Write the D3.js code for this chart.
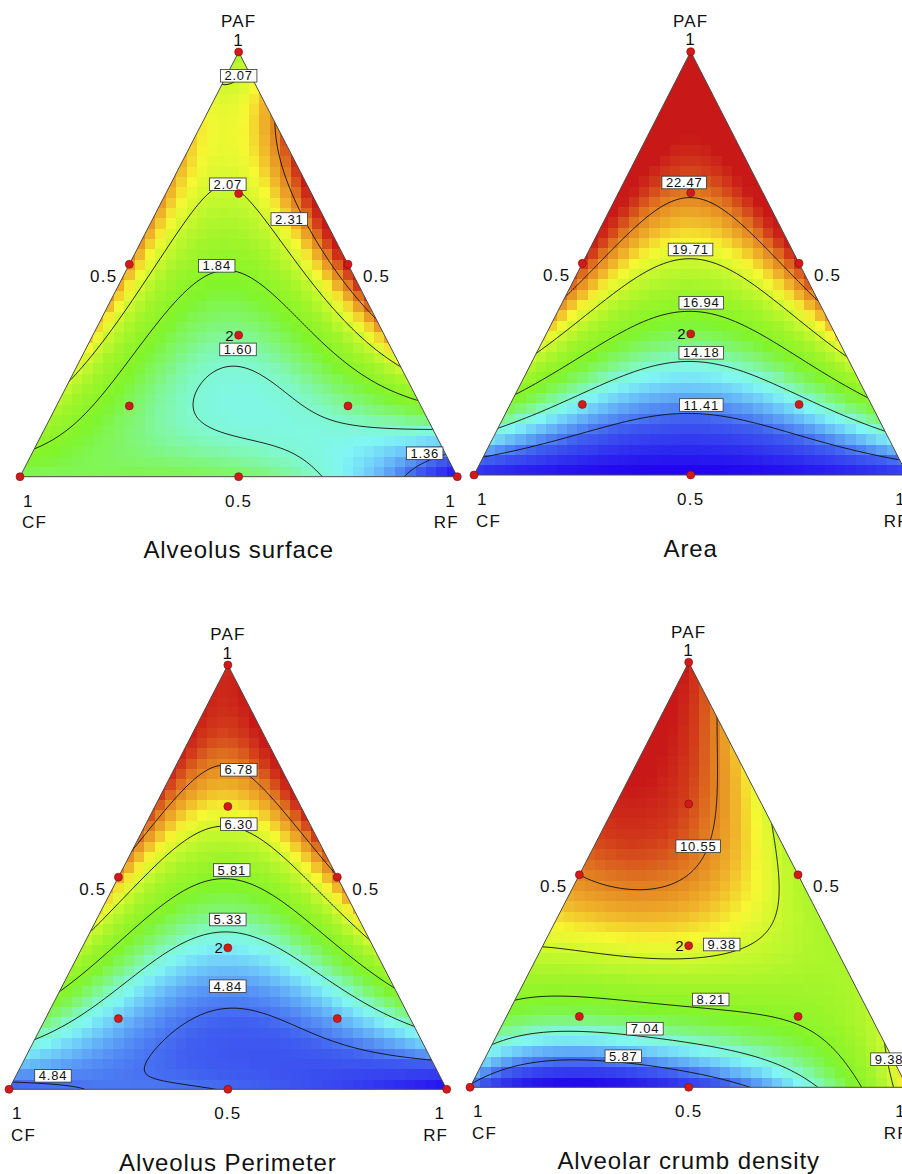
<!DOCTYPE html>
<meta charset="utf-8">
<title>Mixture design - ternary response surfaces</title>

<style>
body {
  margin: 0px;
  background: #fff;
}
svg {
  display: block;
  font-family: "Liberation Sans", Arial, sans-serif;
}
path.edge {
  fill: none;
  stroke: #4a4a4a;
  stroke-width: 1;
}
path.contour {
  fill: none;
  stroke: #111;
  stroke-width: 0.9;
}
g.lbl rect {
  fill: #fff;
  stroke: #333;
  stroke-width: 0.8;
}
g.lbl text {
  font-size: 13px;
  letter-spacing: 0.8px;
  text-anchor: middle;
  fill: #111;
}
circle.pt {
  fill: #d21a1a;
  stroke: #7a0d0d;
  stroke-width: 0.6;
}
text.ax {
  font-size: 17px;
  letter-spacing: 1.2px;
  fill: #111;
}
text.rep {
  font-size: 15px;
  fill: #111;
  text-anchor: end;
}
text.ttl {
  font-size: 24px;
  letter-spacing: 0.9px;
  text-anchor: middle;
  fill: #111;
}
</style>

<script src="https://d3js.org/d3.v7.min.js"></script>
<body>
<script>

// ---------------- data ----------------
var titles = ["Alveolus surface", "Area", "Alveolus Perimeter", "Alveolar crumb density"];

// contour levels printed on each plot
var levelsSurface = [1.36, 1.60, 1.84, 2.07, 2.31];
var levelsArea    = [11.41, 14.18, 16.94, 19.71, 22.47];
var levelsPerim   = [4.84, 5.33, 5.81, 6.30, 6.78];
var levelsDensity = [5.87, 7.04, 8.21, 9.38, 10.55];

// mixture model coefficients (component order CF, PAF, RF)
// linear: CF, PAF, RF
var linSurface = [1.72, 1.97, 1.12];
var linArea    = [9.5, 25.0, 9.8];
var linPerim   = [4.75, 7.04, 4.36];
var linDensity = [5.75, 11.28, 10.0];
// binary: CF*PAF, CF*RF, PAF*RF
var binSurface = [1.69, 1.19, 3.67];
var binArea    = [25.56, -4.4, 25.56];
var binPerim   = [3.01, 1.10, 4.26];
var binDensity = [8.14, -10.8, -6.49];
// ternary: CF*PAF*RF
var terSurface = -18.1;
var terArea    = -115;
var terPerim   = -30;
var terDensity = 44;
// cubic: CF*PAF*(CF-PAF), CF*RF*(CF-RF), PAF*RF*(PAF-RF)
var cubSurface = [0, -0.5, -0.29];
var cubArea    = [5.9, 0, -5.9];
var cubPerim   = [0, 0, -0.39];
var cubDensity = [0, 0.2, 2.0];
// quartic: same pairs times (xi-xj)^2
var qrtSurface = [0, 0, 0];
var qrtArea    = [0, 0, 0];
var qrtPerim   = [0, 0, 0];
var qrtDensity = [0, -5.5, 0];

// design points (CF, PAF, RF) and replicates
var design = [[1, 0, 0], [0, 1, 0], [0, 0, 1],
              [0.5, 0.5, 0], [0.5, 0, 0.5], [0, 0.5, 0.5],
              [2/3, 1/6, 1/6], [1/6, 2/3, 1/6], [1/6, 1/6, 2/3],
              [1/3, 1/3, 1/3]];
var replicates = [1, 1, 1, 1, 1, 1, 1, 1, 1, 2];

// which level each printed contour label shows
var labelLevelSurface = [3, 3, 4, 2, 1, 0];
var labelLevelArea    = [4, 3, 2, 1, 0];
var labelLevelPerim   = [4, 3, 2, 1, 0, 0];
var labelLevelDensity = [4, 3, 2, 1, 0, 3];

// ---------------- layout ----------------
var width = 902, height = 1174;

var panels = [
  {x0: 20,  yb: 476.7,  w: 437.3, h: 424.7},
  {x0: 474, yb: 475,    w: 433.4, h: 423.3},
  {x0: 9,   yb: 1089.3, w: 437.7, h: 424.3},
  {x0: 470, yb: 1087.3, w: 437.4, h: 425}
];

// where the contour labels sit (as CF, PAF, RF compositions)
var labelAt = [
  [[0.028, 0.944, 0.028], [0.1805, 0.6885, 0.131], [0.081, 0.6067, 0.3124],
   [0.302, 0.4965, 0.2015], [0.3516, 0.2997, 0.3487], [0.047, 0.0551, 0.8979]],
  [[0.1695, 0.691, 0.1395], [0.234, 0.5327, 0.2333], [0.272, 0.4068, 0.321],
   [0.331, 0.2887, 0.380], [0.3928, 0.1654, 0.4418]],
  [[0.0985, 0.753, 0.1485], [0.1625, 0.6248, 0.2127], [0.2328, 0.5168, 0.2504],
   [0.3, 0.4002, 0.2998], [0.3786, 0.243, 0.3784], [0.8836, 0.0318, 0.0846]],
  [[0.1947, 0.5673, 0.238], [0.2566, 0.336, 0.4074], [0.3464, 0.2066, 0.447],
   [0.531, 0.1379, 0.331], [0.6129, 0.0732, 0.3139], [0.009, 0.0661, 0.9248]]
];

// colour ramp (fraction of the response range -> colour)
var rampStops  = [0, 0.15, 0.25, 0.30, 0.34, 0.40, 0.47, 0.58, 0.65, 0.72, 0.78, 0.85, 0.90, 0.95, 1];
var rampColors = ["#2000f0", "#4060f0", "#6ec8fa", "#80f6f4", "#80f8cc", "#80f674", "#80f52a",
                  "#a2f52a", "#c4f82e", "#f6f832", "#f0b42a", "#e07820", "#d23c1a", "#c81818", "#c81818"];

var plots = [
  {levels: levelsSurface, lin: linSurface, bin: binSurface, ter: terSurface, cub: cubSurface, qrt: qrtSurface, lab: labelLevelSurface},
  {levels: levelsArea,    lin: linArea,    bin: binArea,    ter: terArea,    cub: cubArea,    qrt: qrtArea,    lab: labelLevelArea},
  {levels: levelsPerim,   lin: linPerim,   bin: binPerim,   ter: terPerim,   cub: cubPerim,   qrt: qrtPerim,   lab: labelLevelPerim},
  {levels: levelsDensity, lin: linDensity, bin: binDensity, ter: terDensity, cub: cubDensity, qrt: qrtDensity, lab: labelLevelDensity}
];

function model(k, a, b, c) {
  return k.lin[0] * a + k.lin[1] * b + k.lin[2] * c
    + k.bin[0] * a * b + k.bin[1] * a * c + k.bin[2] * b * c
    + k.ter * a * b * c
    + k.cub[0] * a * b * (a - b) + k.cub[1] * a * c * (a - c) + k.cub[2] * b * c * (b - c)
    + k.qrt[0] * a * b * (a - b) * (a - b) + k.qrt[1] * a * c * (a - c) * (a - c)
    + k.qrt[2] * b * c * (b - c) * (b - c);
}

var svg = d3.select("body").append("svg")
    .attr("width", width)
    .attr("height", height);

plots.forEach(function(k, pi) {
  var p = panels[pi];

  // ternary scales: PAF share -> y, (RF + PAF/2) -> x
  var ys = d3.scaleLinear().domain([0, 1]).range([p.yb, p.yb - p.h]);
  var xs = d3.scaleLinear().domain([0, 1]).range([p.x0, p.x0 + p.w]);
  function pos(comp) {
    return [xs(comp[2] + comp[1] / 2), ys(comp[1])];
  }
  function comp(x, y) {
    var b = ys.invert(y);
    var c = xs.invert(x) - b / 2;
    return [1 - b - c, b, c];
  }

  var step = (k.levels[4] - k.levels[0]) / 4;
  var lo = k.levels[0] - step, hi = k.levels[4] + step;
  var color = d3.scaleLinear()
      .domain(rampStops.map(function(t) { return lo + t * (hi - lo); }))
      .range(rampColors)
      .clamp(true);

  var C = pos([1, 0, 0]), P = pos([0, 1, 0]), R = pos([0, 0, 1]);
  var tri = "M" + C + "L" + P + "L" + R + "Z";

  var g = svg.append("g");
  g.append("clipPath").attr("id", "clip" + pi)
    .append("path").attr("d", tri);

  // pixelated surface
  var nx = 42, ny = 41;
  var cw = p.w / nx, ch = p.h / ny;
  var cells = [];
  for (var j = 0; j < ny; j++) {
    for (var i = 0; i < nx; i++) {
      var cx = p.x0 + (i + 0.5) * cw, cy = p.yb - (j + 0.5) * ch;
      var m = comp(cx, cy);
      if (m[0] < -0.06 || m[2] < -0.06) continue;
      cells.push({x: cx - cw / 2, y: cy - ch / 2, v: model(k, m[0], m[1], m[2])});
    }
  }
  var heat = g.append("g").attr("clip-path", "url(#clip" + pi + ")");
  heat.selectAll("rect")
      .data(cells)
    .enter().append("rect")
      .attr("x", function(d) { return d.x; })
      .attr("y", function(d) { return d.y; })
      .attr("width", cw + 0.6)
      .attr("height", ch + 0.6)
      .attr("fill", function(d) { return color(d.v); })
      .attr("shape-rendering", "crispEdges");

  // contour lines
  var gs = 2, mg = 8;
  var gx0 = p.x0 - mg, gy0 = p.yb - p.h - mg;
  var gw = Math.ceil((p.w + 2 * mg) / gs) + 1, gh = Math.ceil((p.h + 2 * mg) / gs) + 1;
  var vals = new Float64Array(gw * gh);
  for (var jj = 0; jj < gh; jj++) {
    for (var ii = 0; ii < gw; ii++) {
      var mm = comp(gx0 + ii * gs, gy0 + jj * gs);
      vals[jj * gw + ii] = model(k, mm[0], mm[1], mm[2]);
    }
  }
  var contours = d3.contours().size([gw, gh]).thresholds(k.levels)(vals);
  var cpath = d3.geoPath(d3.geoIdentity().scale(gs).translate([gx0 - gs / 2, gy0 - gs / 2]));
  heat.selectAll("path.contour")
      .data(contours)
    .enter().append("path")
      .attr("class", "contour")
      .attr("d", cpath);

  // triangle outline
  g.append("path").attr("class", "edge").attr("d", tri);

  // contour labels
  var labs = g.selectAll("g.lbl")
      .data(k.lab.map(function(li, n) { return {t: k.levels[li].toFixed(2), at: pos(labelAt[pi][n])}; }))
    .enter().append("g")
      .attr("class", "lbl")
      .attr("transform", function(d) { return "translate(" + d.at + ")"; });
  labs.append("rect");
  labs.append("text").attr("y", 4.6).text(function(d) { return d.t; });
  labs.each(function() {
    var tw = d3.select(this).select("text").node().getComputedTextLength();
    d3.select(this).select("rect")
      .attr("x", -tw / 2 - 4).attr("y", -6.3)
      .attr("width", tw + 8).attr("height", 12.6);
  });

  // design points
  g.selectAll("circle.pt")
      .data(design)
    .enter().append("circle")
      .attr("class", "pt")
      .attr("cx", function(d) { return pos(d)[0]; })
      .attr("cy", function(d) { return pos(d)[1]; })
      .attr("r", 4);
  g.selectAll("text.rep")
      .data(design.filter(function(d, n) { return replicates[n] > 1; }))
    .enter().append("text")
      .attr("class", "rep")
      .attr("x", function(d) { return pos(d)[0] - 5; })
      .attr("y", function(d) { return pos(d)[1] + 5.5; })
      .text(function(d) { return replicates[design.indexOf(d)]; });

  // axis labels
  var L = pos([0.5, 0.5, 0]), Rm = pos([0, 0.5, 0.5]), B = pos([0.5, 0, 0.5]);
  function ax(x, y, anchor, s) {
    g.append("text").attr("class", "ax")
      .attr("x", x).attr("y", y)
      .attr("text-anchor", anchor)
      .text(s);
  }
  ax(P[0], P[1] - 24.7, "middle", "PAF");
  ax(P[0], P[1] - 6.3, "middle", "1");
  ax(L[0] - 12, L[1] + 17.6, "end", "0.5");
  ax(Rm[0] + 15, Rm[1] + 17.6, "start", "0.5");
  ax(C[0] + 3, p.yb + 30, "start", "1");
  ax(C[0] + 2, p.yb + 51.5, "start", "CF");
  ax(B[0], p.yb + 30, "middle", "0.5");
  ax(R[0] - 1.5, p.yb + 30, "end", "1");
  ax(R[0] + 1.5, p.yb + 51.5, "end", "RF");

  g.append("text").attr("class", "ttl")
    .attr("x", B[0]).attr("y", p.yb + 81.5)
    .text(titles[pi]);
});

</script>
